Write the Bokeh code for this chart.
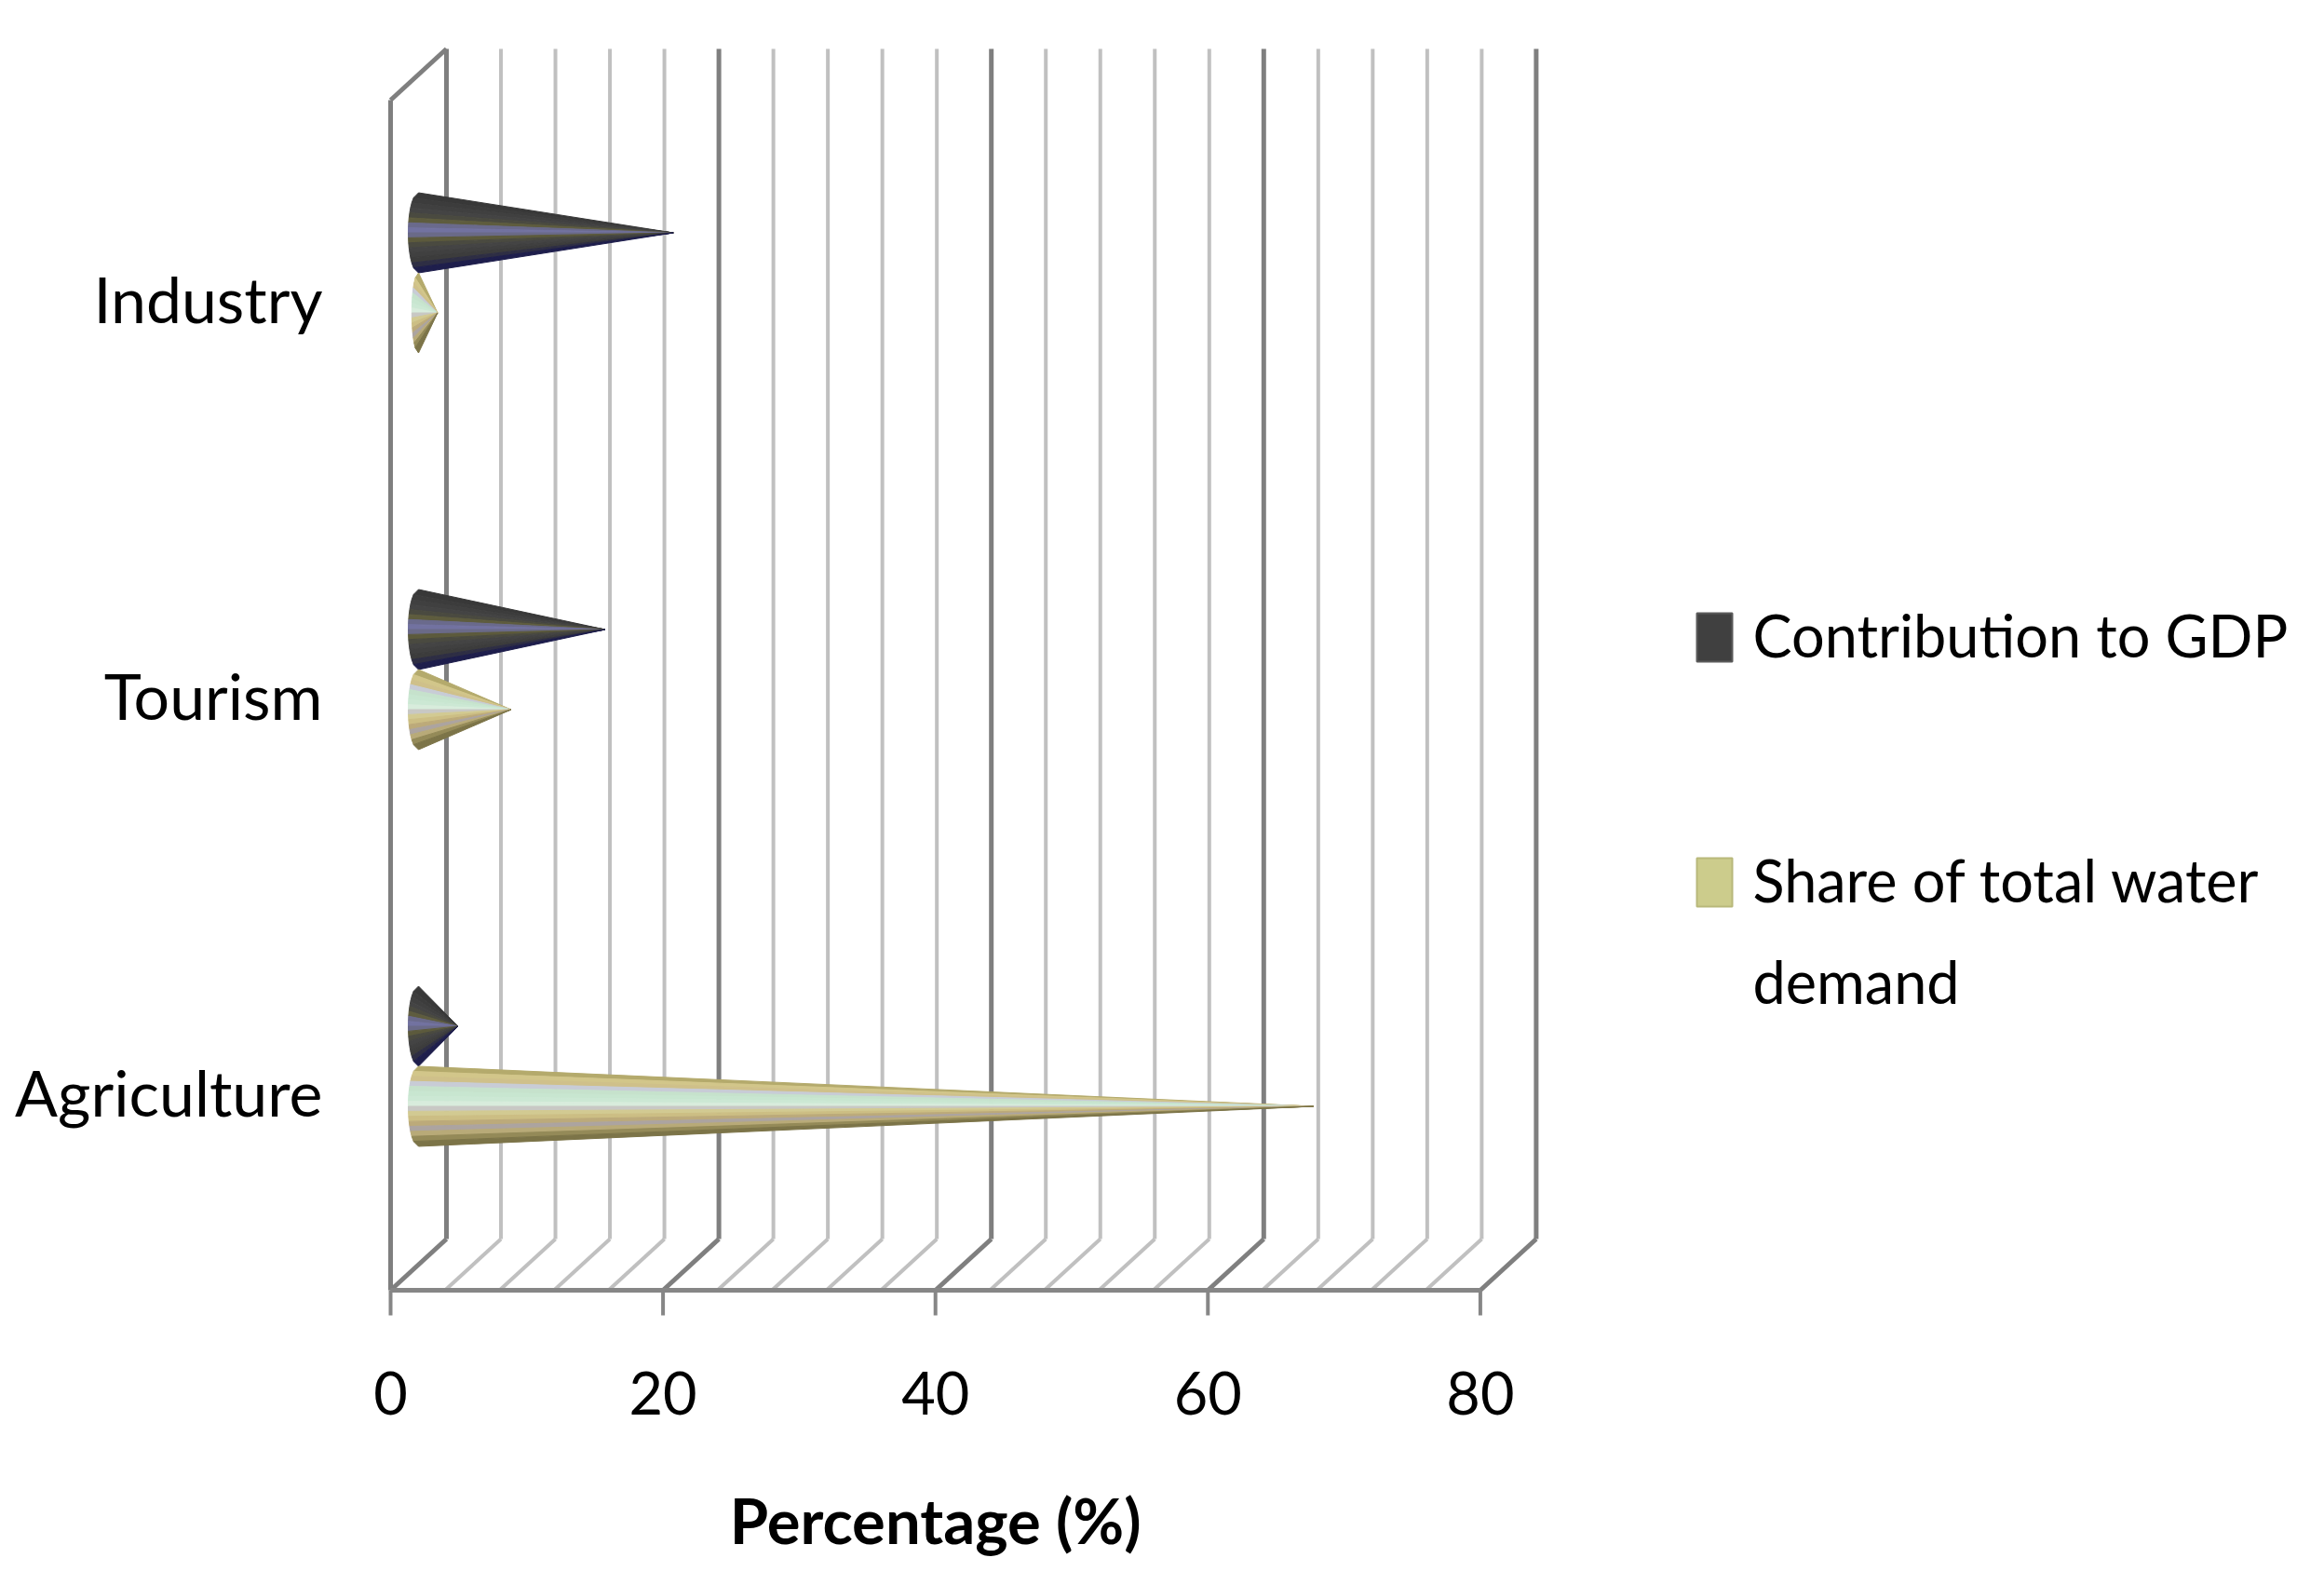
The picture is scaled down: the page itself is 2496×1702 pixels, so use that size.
import math
from bokeh.plotting import figure
from bokeh.models import Range1d, FixedTicker
from bokeh.core.properties import value
from bokeh.embed import file_html
from bokeh.resources import INLINE

# ---------------- data ----------------
categories = ["Agriculture", "Tourism", "Industry"]
gdp_contribution = [2.9, 13.7, 18.7]      # Contribution to GDP (%)
water_share = [65.7, 6.8, 1.4]            # Share of total water demand (%)
series_names = ["Contribution to GDP", "Share of total water demand"]
x_ticks = [0, 20, 40, 60, 80]
x_tick_labels = ["0", "20", "40", "60", "80"]
x_title = "Percentage (%)"
grid_step = 4

# ---------------- layout / style ----------------
FONT = "Lato"
W, H = 2488, 1694
PX_X = 14.63          # px per percentage unit
PX_Y = 426.0          # px per category band
FRAME_LEFT = 400      # px of frame left
FLOOR_PX = 1385       # px row of the front floor edge
X0_PX = 419           # px column of value 0 on the front edge
DX = 60 / PX_X        # depth offset (x units)
DY = 55 / PX_Y        # depth offset (y units)
HALF = 43 / PX_Y      # half height of a cone
BASE_A = 11 / PX_X    # half width of cone base ellipse

x_start = (FRAME_LEFT - X0_PX) / PX_X
x_end = (W - X0_PX) / PX_X
y_start = -(H - FLOOR_PX) / PX_Y
y_end = FLOOR_PX / PX_Y


def ypx(py):
    """pixel row -> y data value"""
    return (FLOOR_PX - py) / PX_Y


def xpx(px):
    """pixel column -> x data value"""
    return (px - X0_PX) / PX_X


p = figure(width=W, height=H, x_range=Range1d(x_start, x_end), y_range=Range1d(y_start, y_end),
           output_backend="svg", toolbar_location=None, x_axis_location=None,
           min_border_left=FRAME_LEFT, min_border_right=0, min_border_top=0,
           min_border_bottom=0)
p.outline_line_color = None
p.xgrid.visible = False
p.ygrid.visible = False
p.background_fill_color = "white"
p.border_fill_color = "white"

MAJOR_C, MINOR_C = "#7f7f7f", "#c0c0c0"

# back wall verticals and floor diagonals
grid_vals = list(range(0, x_ticks[-1] + 1, grid_step))
for v in grid_vals:
    major = (v % 20 == 0)
    col = MAJOR_C if major else MINOR_C
    lw = 5 if major else 4
    p.line([v + DX, v + DX], [DY, 3 + DY], line_color=col, line_width=lw)
    p.line([v, v + DX], [0, DY], line_color=col, line_width=lw)

# left side wall front edge + top edge, floor front edge
p.line([0, 0], [0, 3], line_color=MAJOR_C, line_width=5)
p.line([0, DX], [3, 3 + DY], line_color=MAJOR_C, line_width=5)
p.line([0, x_ticks[-1]], [0, 0], line_color="#868686", line_width=5)

# value axis ticks, labels and title
p.segment(x0=x_ticks, y0=[0] * len(x_ticks), x1=x_ticks, y1=[-27 / PX_Y] * len(x_ticks),
          line_color="#868686", line_width=4)
p.text(x=x_ticks, y=[ypx(1495)] * len(x_ticks), text=x_tick_labels,
       text_font=value(FONT), text_font_size="63px", text_color="black",
       text_align="center", text_baseline="middle")
p.text(x=[(x_ticks[0] + x_ticks[-1]) / 2], y=[ypx(1631)], text=[x_title],
       text_font=value(FONT), text_font_size="67px", text_font_style="bold",
       text_color="black", text_align="center", text_baseline="middle")

# ---------------- cones ----------------
gdp_shades = ["#383838", "#3c3c3c", "#404040", "#444444", "#4a4a40", "#5e5c3e",
              "#6a6a8c", "#7272a0", "#6a6a88", "#5c5a3c", "#4a4a40", "#444444",
              "#404040", "#3c3c3c", "#2e2e44", "#1e1e4c"]
water_shades = ["#b4aa6c", "#d2c68a", "#cfc08a", "#c8ccd6", "#c6e2cc", "#c8e6d0",
                "#cce8d4", "#d8ecdc", "#c8c8c4", "#d2ca92", "#ccbe84", "#bcaa7a",
                "#aca4a0", "#b8aa78", "#948a58", "#7c7448"]


def cone_patches(values, shades, offset):
    xs, ys, cols = [], [], []
    n = len(shades)
    for c, val in enumerate(values):
        yc = c + 0.5 + DY / 2 + offset
        x0 = DX / 2
        tip = x0 + val
        a = min(BASE_A, val * 0.35)
        for i, col in enumerate(shades):
            ta = 1 - 2 * i / n
            tb = 1 - 2 * (i + 1) / n
            ya, yb = yc + HALF * ta, yc + HALF * tb
            xa = x0 - a * math.sqrt(max(0.0, 1 - ta * ta))
            xb = x0 - a * math.sqrt(max(0.0, 1 - tb * tb))
            xs.append([xa, xb, tip])
            ys.append([ya, yb, yc])
            cols.append(col)
    return xs, ys, cols


for vals, shades, off in [(gdp_contribution, gdp_shades, HALF),
                          (water_share, water_shades, -HALF)]:
    xs, ys, cols = cone_patches(vals, shades, off)
    p.patches(xs=xs, ys=ys, fill_color=cols, line_color=cols, line_width=1)

# ---------------- category axis ----------------
p.yaxis.ticker = FixedTicker(ticks=[i + 0.5 for i in range(len(categories))])
p.yaxis.major_label_overrides = {i + 0.5: c for i, c in enumerate(categories)}
p.yaxis.axis_line_color = None
p.yaxis.major_tick_line_color = None
p.yaxis.minor_tick_line_color = None
p.yaxis.major_label_standoff = 48
p.yaxis.major_label_text_font = FONT
p.yaxis.major_label_text_font_size = "68px"
p.yaxis.major_label_text_color = "black"

# ---------------- legend ----------------
leg_x = xpx(1841)
txt_x = xpx(1882)
p.rect(x=[leg_x, leg_x], y=[ypx(684), ypx(947)], width=38, height=52,
       width_units="screen", height_units="screen",
       fill_color=["#404040", "#cccc8c"], line_color=["#5a5a5a", "#b8b87a"], line_width=2)
p.text(x=[txt_x, txt_x, txt_x], y=[ypx(681), ypx(943.5), ypx(1053)],
       text=[series_names[0], "Share of total water", "demand"],
       text_font=value(FONT), text_font_size="63px", text_color="black",
       text_align="left", text_baseline="middle")

open("out.html", "w").write(file_html(p, INLINE))
